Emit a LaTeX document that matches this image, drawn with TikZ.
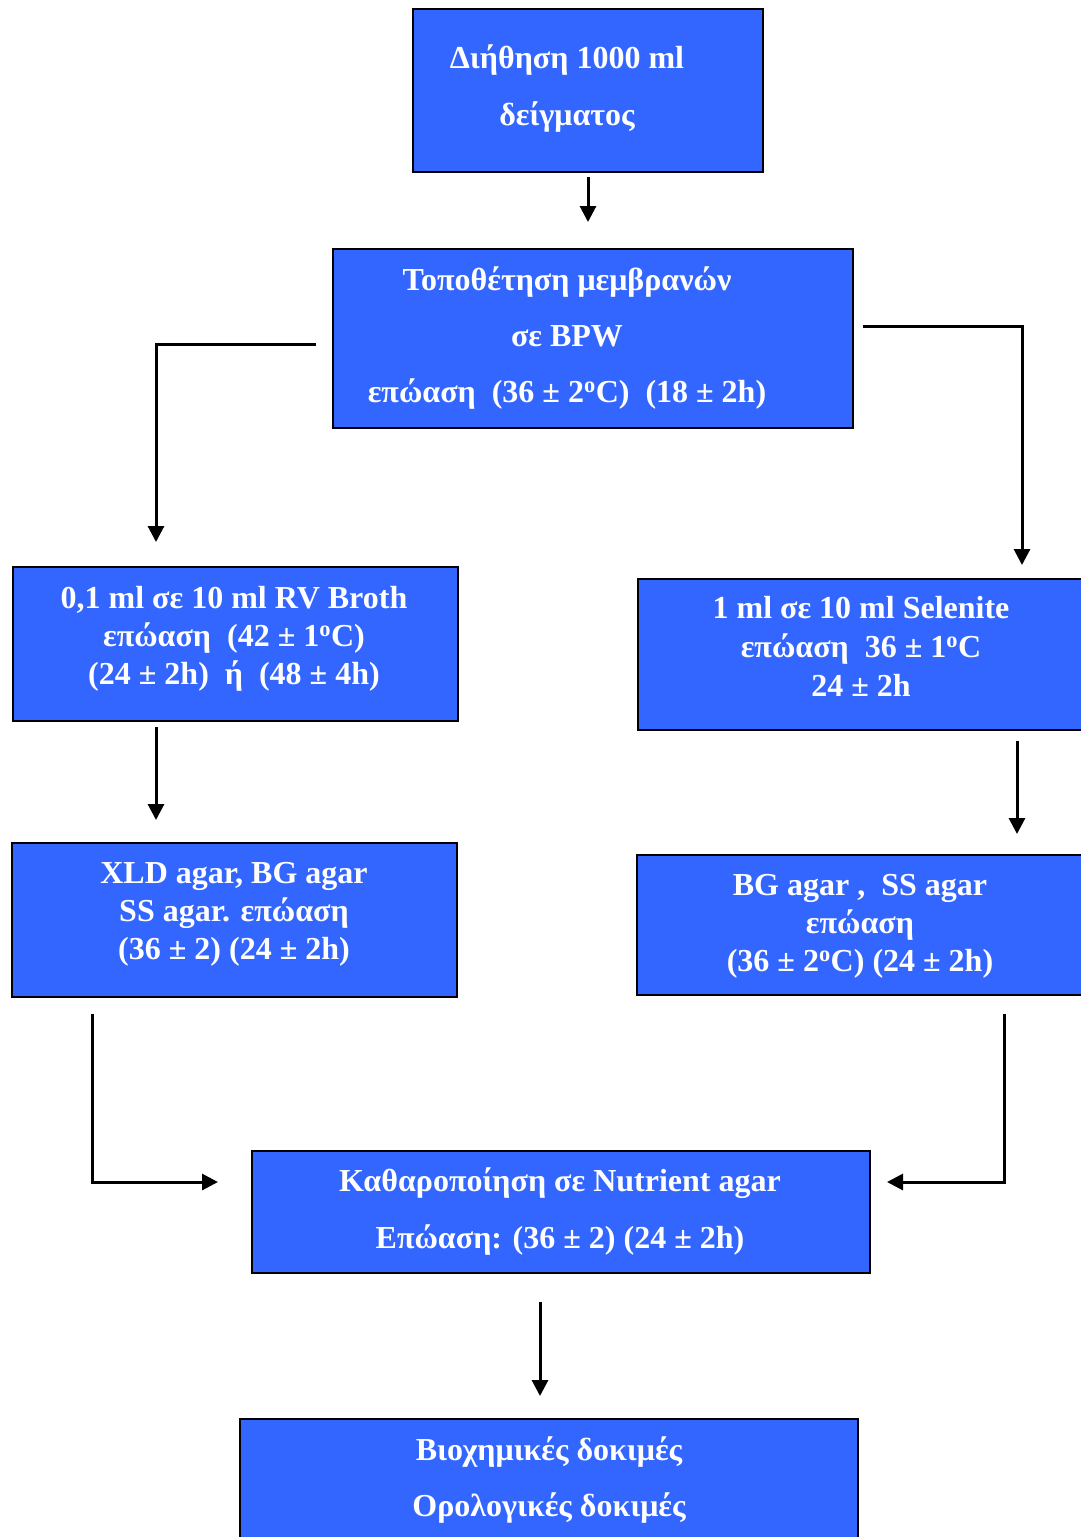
\documentclass[tikz,border=0pt]{standalone}
\usepackage{fontspec}
\setmainfont{Liberation Serif}
\usetikzlibrary{calc,arrows.meta}
\definecolor{boxblue}{HTML}{3366FF}
\begin{document}
\begin{tikzpicture}[x=1pt,y=-1pt,
  box/.style={draw=black,line width=2pt,fill=boxblue,anchor=north west,inner sep=0pt},
  big/.style={anchor=base,text=white,inner sep=0pt,font=\fontsize{32}{38}\selectfont\bfseries},
  small/.style={anchor=base,text=white,inner sep=0pt,font=\fontsize{32}{38}\selectfont\bfseries},
  arr/.style={line width=3pt,-{Triangle[length=16pt,width=16pt]}}]
\useasboundingbox (0,0) rectangle (1081,1537);
\clip (0,0) rectangle (1081,1537);
% boxes
\node[box,minimum width=350pt,minimum height=163pt] (b1) at (412,8) {};
\node[box,minimum width=520pt,minimum height=179pt] (b2) at (332,248) {};
\node[box,minimum width=445pt,minimum height=154pt] (b3) at (12,566) {};
\node[box,minimum width=470pt,minimum height=151pt] (b4) at (637,578) {};
\node[box,minimum width=445pt,minimum height=154pt] (b5) at (11,842) {};
\node[box,minimum width=470pt,minimum height=140pt] (b6) at (636,854) {};
\node[box,minimum width=618pt,minimum height=122pt] (b7) at (251,1150) {};
\node[box,minimum width=618pt,minimum height=140pt] (b8) at (239,1418) {};
% texts
\node[big] (t1a) at (567,68) {Διήθηση 1000 ml};
\node[big] (t1b) at (567,125) {δείγματος};
\node[big] (t2a) at (567,290) {Τοποθέτηση μεμβρανών};
\node[big] (t2b) at (567,346) {σε BPW};
\node[big] (t2c) at (567,402) {επώαση\ \ (36 ± 2\textsuperscript{o}C)\ \ (18 ± 2h)};
\node[small] (t3a) at (234,608) {0,1 ml σε 10 ml RV Broth};
\node[small] (t3b) at (234,646) {επώαση\ \ (42 ± 1\textsuperscript{o}C)};
\node[small] (t3c) at (234,684) {(24 ± 2h)\ \ ή\ \ (48 ± 4h)};
\node[small] (t4a) at (861,618) {1 ml σε 10 ml Selenite};
\node[small] (t4b) at (861,657) {επώαση\ \ 36 ± 1\textsuperscript{o}C};
\node[small] (t4c) at (861,696) {24 ± 2h};
\node[small] (t5a) at (234,883) {XLD agar, BG agar};
\node[small] (t5b) at (234,921) {SS agar. επώαση};
\node[small] (t5c) at (234,959) {(36 ± 2) (24 ± 2h)};
\node[small] (t6a) at (860,895) {BG agar ,\ \ SS agar};
\node[small] (t6b) at (860,933) {επώαση};
\node[small] (t6c) at (860,971) {(36 ± 2\textsuperscript{o}C) (24 ± 2h)};
\node[big] (t7a) at (560,1191) {Καθαροποίηση σε Nutrient agar};
\node[big] (t7b) at (560,1248) {Επώαση: (36 ± 2) (24 ± 2h)};
\node[big] (t8a) at (549,1460) {Βιοχημικές δοκιμές};
\node[big] (t8b) at (549,1516) {Ορολογικές δοκιμές};
% connectors
\draw[arr] ($(b1.south)+(0,4)$) -- ($(b1.south |- b2.north)+(0,-26)$);
\draw[arr] ($(b2.west)+(-16,6)$) -| ($(b3.north west)+(144,-24)$);
\draw[arr] ($(b2.east)+(9,-12)$) -| ($(b4.north west)+(385,-13)$);
\draw[arr] ($(b3.south west)+(144,5)$) -- ($(b5.north west)+(145,-22)$);
\draw[arr] ($(b4.south west)+(380,10)$) -- ($(b6.north west)+(381,-20)$);
\draw[arr] ($(b5.south west)+(81,16)$) |- ($(b7.west)+(-33,-30)$);
\draw[arr] ($(b6.south west)+(368,18)$) |- ($(b7.east)+(16,-30)$);
\draw[arr] ($(b7.south west)+(289,28)$) -- ($(b8.north west)+(301,-22)$);
\end{tikzpicture}
\end{document}
